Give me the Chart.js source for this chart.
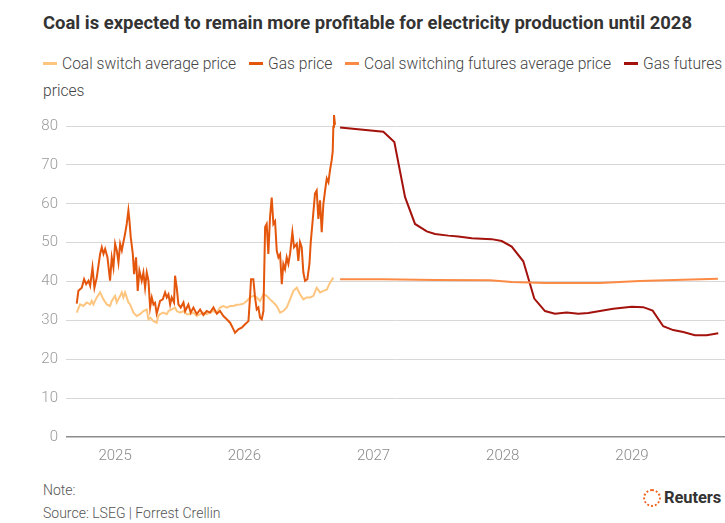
<!DOCTYPE html>
<html>
<head>
<meta charset="utf-8">
<script src="https://cdn.jsdelivr.net/npm/chart.js@4.4.1/dist/chart.umd.min.js"></script>
<style>
  html, body { margin: 0; padding: 0; background: #fff; }
  body { width: 725px; height: 523px; position: relative; overflow: hidden; font-family: Roboto, "Open Sans", sans-serif; }
  #title { position: absolute; left: 43px; top: 12px; font-size: 18.45px; font-weight: 700; color: #333; white-space: nowrap; }
  #legend { position: absolute; left: 43px; top: 51px; width: 690px; font-size: 15.6px; font-weight: 300; color: #444; line-height: 27px; }
  #legend .sw { display: inline-block; width: 14px; height: 3px; vertical-align: middle; margin-right: 5px; position: relative; top: -1px; }
  #legend .it { margin-right: 9px; }
  #chartBox { position: absolute; left: 0; top: 100px; width: 725px; height: 376px; }
  #note { position: absolute; left: 43px; top: 482px; font-size: 14px; font-weight: 300; color: #555; }
  #source { position: absolute; left: 43px; top: 505px; font-size: 14px; font-weight: 300; color: #555; }
  #logo { position: absolute; left: 643px; top: 489px; height: 22px; }
  #logo .ring { position: absolute; left: 0; top: 0; width: 14px; height: 14px; border: 2px dotted #f0641e; border-radius: 50%; }
  #logo .txt { position: absolute; left: 21px; top: -1px; font-size: 16.5px; font-weight: 700; color: #333; letter-spacing: -0.1px; }
</style>
</head>
<body>
<div id="title">Coal is expected to remain more profitable for electricity production until 2028</div>
<div id="legend"></div>
<div id="chartBox"><canvas id="chart"></canvas></div>
<div id="note">Note:</div>
<div id="source">Source: LSEG | Forrest Crellin</div>
<div id="logo"><div class="ring"></div><div class="txt">Reuters</div></div>
<script>
// ---- data (x = decimal year) ----
const seriesNames = ["Coal switch average price", "Gas price", "Coal switching futures average price", "Gas futures prices"];
const seriesColors = ["#fec57f", "#e4560c", "#fb8a45", "#a3120c"];
const yearTicks = [2025, 2026, 2027, 2028, 2029];
const yTicks = [0, 10, 20, 30, 40, 50, 60, 70, 80];

const gasX = [2024.703, 2024.716, 2024.742, 2024.760, 2024.776, 2024.794, 2024.807, 2024.825, 2024.840, 2024.858,
  2024.884, 2024.897, 2024.910, 2024.923, 2024.941, 2024.961, 2024.974, 2024.987, 2025.000, 2025.013,
  2025.026, 2025.039, 2025.052, 2025.064, 2025.077, 2025.090, 2025.103, 2025.111, 2025.121, 2025.137,
  2025.147, 2025.162, 2025.175, 2025.188, 2025.206, 2025.219, 2025.232, 2025.245, 2025.258, 2025.271,
  2025.284, 2025.297, 2025.309, 2025.322, 2025.335, 2025.348, 2025.369, 2025.387, 2025.400, 2025.413,
  2025.426, 2025.438, 2025.456, 2025.464, 2025.477, 2025.490, 2025.508, 2025.529, 2025.542, 2025.567,
  2025.585, 2025.606, 2025.632, 2025.658, 2025.683, 2025.709, 2025.735, 2025.761, 2025.787, 2025.812,
  2025.838, 2025.864, 2025.890, 2025.916, 2025.928, 2025.954, 2025.980, 2026.006, 2026.032, 2026.044,
  2026.052, 2026.070, 2026.083, 2026.096, 2026.109, 2026.122, 2026.135, 2026.148, 2026.161, 2026.173,
  2026.186, 2026.199, 2026.212, 2026.225, 2026.238, 2026.251, 2026.264, 2026.277, 2026.290, 2026.302,
  2026.315, 2026.328, 2026.341, 2026.354, 2026.372, 2026.385, 2026.406, 2026.418, 2026.431, 2026.444,
  2026.457, 2026.470, 2026.488, 2026.504, 2026.514, 2026.529, 2026.547, 2026.560, 2026.573, 2026.586,
  2026.599, 2026.612, 2026.625, 2026.638, 2026.651, 2026.663, 2026.676, 2026.684, 2026.689, 2026.694,
  2026.702];
const gasY = [34.3, 37.6, 38.4, 40.6, 39.3, 40.2, 38.9, 43.6, 38.4, 41.0,
  47.1, 48.8, 47.1, 48.4, 46.2, 40.2, 46.2, 43.6, 49.7, 48.0,
  44.9, 49.7, 48.0, 50.1, 52.2, 54.8, 58.3, 55.7, 51.4, 47.1,
  41.9, 46.2, 37.6, 42.8, 40.2, 42.3, 38.4, 42.3, 40.2, 33.3,
  35.9, 34.1, 34.5, 31.7, 33.3, 35.0, 35.4, 37.2, 35.9, 36.7,
  34.1, 35.9, 34.6, 41.5, 38.4, 34.1, 33.3, 34.6, 32.4, 34.1,
  32.0, 33.3, 31.6, 32.8, 31.4, 32.4, 32.0, 33.3, 31.7, 32.4,
  31.1, 30.3, 29.4, 27.7, 26.8, 27.7, 28.1, 29.0, 29.8, 35.9,
  40.6, 40.6, 35.9, 32.8, 33.3, 30.7, 30.3, 32.4, 54.0, 54.8,
  47.1, 56.6, 61.6, 54.8, 55.5, 47.9, 46.2, 47.0, 39.3, 44.5,
  43.2, 46.2, 44.5, 47.1, 52.7, 48.8, 49.7, 45.3, 50.1, 48.8,
  42.3, 40.2, 40.6, 44.5, 50.1, 55.7, 62.6, 63.4, 56.1, 60.9,
  52.7, 60.0, 63.4, 66.5, 65.5, 68.6, 71.2, 73.4, 79.8, 82.8,
  80.3];

const coalX = [2024.703, 2024.729, 2024.755, 2024.780, 2024.807, 2024.819, 2024.832, 2024.858, 2024.884, 2024.897,
  2024.910, 2024.936, 2024.961, 2024.974, 2025.000, 2025.013, 2025.039, 2025.052, 2025.064, 2025.077,
  2025.090, 2025.103, 2025.116, 2025.142, 2025.168, 2025.193, 2025.219, 2025.245, 2025.258, 2025.271,
  2025.297, 2025.322, 2025.335, 2025.348, 2025.374, 2025.400, 2025.413, 2025.438, 2025.464, 2025.477,
  2025.503, 2025.529, 2025.555, 2025.580, 2025.606, 2025.632, 2025.658, 2025.683, 2025.709, 2025.735,
  2025.761, 2025.787, 2025.812, 2025.838, 2025.864, 2025.890, 2025.916, 2025.941, 2025.967, 2025.993,
  2026.019, 2026.044, 2026.070, 2026.096, 2026.122, 2026.148, 2026.173, 2026.199, 2026.225, 2026.251,
  2026.277, 2026.302, 2026.328, 2026.354, 2026.380, 2026.406, 2026.431, 2026.457, 2026.483, 2026.509,
  2026.535, 2026.560, 2026.586, 2026.612, 2026.638, 2026.663, 2026.689];
const coalY = [32.0, 34.1, 33.7, 34.6, 34.1, 35.0, 34.1, 35.9, 37.2, 36.3,
  35.4, 34.1, 33.7, 35.0, 36.3, 34.6, 36.3, 37.2, 35.9, 37.2,
  35.9, 34.6, 34.1, 32.0, 31.1, 31.6, 32.4, 32.8, 30.3, 30.7,
  29.8, 29.4, 31.1, 31.6, 32.0, 31.6, 32.4, 32.8, 33.3, 32.4,
  32.0, 32.4, 31.6, 31.6, 32.0, 31.1, 31.6, 32.0, 31.6, 32.0,
  32.4, 32.0, 33.3, 33.7, 33.3, 33.7, 33.7, 34.0, 34.1, 34.3,
  35.0, 35.9, 36.3, 35.9, 35.0, 36.7, 36.3, 35.4, 34.6, 33.7,
  32.0, 32.4, 33.3, 35.4, 37.6, 38.4, 36.7, 35.4, 35.9, 35.9,
  36.3, 38.4, 37.2, 37.6, 37.9, 39.7, 41.0];

const coalFutX = [2026.741, 2027.074, 2027.476, 2027.900, 2028.070, 2028.327, 2028.752, 2029.060, 2029.665];
const coalFutY = [40.6, 40.6, 40.4, 40.3, 39.9, 39.6, 39.6, 40.1, 40.7];

const gasFutX = [2026.741, 2027.076, 2027.161, 2027.244, 2027.321, 2027.412, 2027.476, 2027.579, 2027.656, 2027.760,
  2027.914, 2027.992, 2028.069, 2028.159, 2028.244, 2028.327, 2028.404, 2028.495, 2028.585, 2028.662,
  2028.752, 2028.855, 2028.998, 2029.087, 2029.160, 2029.242, 2029.319, 2029.397, 2029.487, 2029.578,
  2029.668];
const gasFutY = [79.6, 78.5, 75.9, 61.7, 54.8, 52.9, 52.2, 51.8, 51.6, 51.1,
  50.9, 50.4, 49.0, 45.2, 35.6, 32.4, 31.7, 32.0, 31.7, 31.9,
  32.4, 33.0, 33.5, 33.4, 32.5, 28.5, 27.5, 27.0, 26.2, 26.2,
  26.7];

// ---- legend (html so it wraps like the original) ----
const legendEl = document.getElementById("legend");
legendEl.innerHTML = seriesNames.map((n, i) =>
  `<span class="it"><span class="sw" style="background:${seriesColors[i]}"></span>${n}</span>`
).join(" ");

const pairs = (xs, ys) => xs.map((x, i) => ({ x, y: ys[i] }));
const seriesData = [pairs(coalX, coalY), pairs(gasX, gasY), pairs(coalFutX, coalFutY), pairs(gasFutX, gasFutY)];
const drawOrder = [2, 1, 3, 4];

new Chart(document.getElementById("chart"), {
  type: "line",
  data: {
    datasets: seriesNames.map((n, i) => ({
      label: n,
      data: seriesData[i],
      borderColor: seriesColors[i],
      borderWidth: 2,
      pointRadius: 0,
      tension: 0,
      fill: false,
      clip: false,   // gas spike goes a bit above the 80 line
      order: drawOrder[i]
    }))
  },
  options: {
    responsive: true,
    maintainAspectRatio: false,
    animation: false,
    layout: { padding: { top: 26, right: 0, bottom: 9, left: 0 } },
    plugins: { legend: { display: false }, tooltip: { enabled: false } },
    scales: {
      x: {
        type: "linear",
        min: 2024.62,
        max: 2029.72,
        afterBuildTicks: s => { s.ticks = yearTicks.map(v => ({ value: v })); },
        ticks: { callback: v => String(v), color: "#8a8a8a", padding: 2, maxRotation: 0, font: { family: "Roboto", size: 15, weight: 300 } },
        grid: { display: false },
        border: { display: false }
      },
      y: {
        min: 0,
        max: 80,
        afterBuildTicks: s => { s.ticks = yTicks.map(v => ({ value: v })); },
        afterFit: s => { s.width = 66; },
        ticks: { color: "#9a9a9a", padding: 8, font: { family: "Roboto", size: 15, weight: 300 } },
        grid: {
          drawTicks: false,
          color: c => (c.tick && c.tick.value === 0 ? "#8c8c8c" : "#d8d8d8"),
          lineWidth: c => (c.tick && c.tick.value === 0 ? 1.5 : 1)
        },
        border: { display: false }
      }
    }
  }
});
</script>
</body>
</html>
